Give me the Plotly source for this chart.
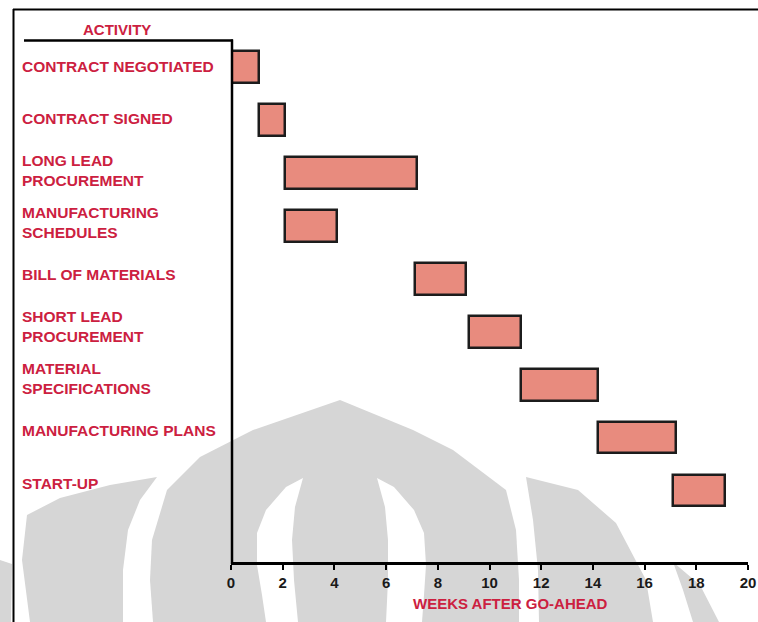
import plotly.graph_objects as go

# --- data -------------------------------------------------------------
activities = [
    "CONTRACT NEGOTIATED",
    "CONTRACT SIGNED",
    "LONG LEAD<br>PROCUREMENT",
    "MANUFACTURING<br>SCHEDULES",
    "BILL OF MATERIALS",
    "SHORT LEAD<br>PROCUREMENT",
    "MATERIAL<br>SPECIFICATIONS",
    "MANUFACTURING PLANS",
    "START-UP",
]
start_week = [0.0, 1.1, 2.1, 2.1, 7.1, 9.2, 11.2, 14.2, 17.1]
end_week = [1.1, 2.1, 7.2, 4.1, 9.1, 11.2, 14.2, 17.2, 19.1]
week_ticks = list(range(0, 21, 2))

# --- layout geometry (pixels) ------------------------------------------
W, H = 758, 622
L, R, T, B = 231, 10, 40, 60
PW, PH = W - L - R, H - T - B
RED = "#cc2040"
FONT = "Liberation Sans"


def px(x, y):
    """Convert page pixel coordinates to paper coordinates."""
    return (x - L) / PW, (H - B - y) / PH


def path(points):
    pts = [px(x, y) for x, y in points]
    return "M " + " L ".join(f"{a:.5f},{b:.5f}" for a, b in pts) + " Z"


rows = list(range(len(activities)))
durations = [e - s for s, e in zip(start_week, end_week)]

fig = go.Figure(
    go.Bar(
        y=rows,
        x=durations,
        base=start_week,
        orientation="h",
        width=0.6,
        marker=dict(color="#e88b7e", line=dict(color="#1c1c1c", width=2.5)),
        hoverinfo="skip",
    )
)

# --- background emblem (light grey) -----------------------------------
GREY = "#d6d6d6"
emblem_grey = [
    # far left sliver
    [(0, 560), (12, 564), (11, 622), (0, 622)],
    # left band
    [(157, 477), (110, 485), (60, 498), (27, 515), (22, 560), (30, 622),
     (123, 622), (123, 570), (128, 530), (140, 500)],
    # central dome
    [(153, 622), (150, 580), (152, 540), (167, 490), (200, 457), (253, 430),
     (340, 400), (413, 430), (453, 450), (506, 490), (516, 530), (519, 580),
     (519, 622)],
    # right band
    [(526, 477), (578, 490), (616, 523), (646, 580), (653, 622),
     (539, 622), (538, 570), (533, 520)],
    # far right band
    [(673, 562), (700, 585), (719, 622), (693, 622), (683, 590)],
]
emblem_white = [
    [(303, 478), (286, 487), (266, 510), (257, 533), (257, 565), (262, 595),
     (266, 622), (298, 622), (294, 580), (292, 540), (295, 507)],
    [(377, 478), (394, 487), (414, 510), (424, 533), (426, 565), (424, 595),
     (422, 622), (386, 622), (388, 580), (388, 540), (385, 507)],
]

shapes = []
for poly in emblem_grey:
    shapes.append(dict(type="path", path=path(poly), xref="paper", yref="paper",
                       fillcolor=GREY, line=dict(width=0), layer="below"))
for poly in emblem_white:
    shapes.append(dict(type="path", path=path(poly), xref="paper", yref="paper",
                       fillcolor="white", line=dict(width=0), layer="below"))


# frame lines, the activity column divider and its header rule
def hline(x0, x1, y, w):
    a0, b0 = px(x0, y)
    a1, _ = px(x1, y)
    return dict(type="line", xref="paper", yref="paper", x0=a0, x1=a1,
                y0=b0, y1=b0, line=dict(color="black", width=w), layer="above")


def vline(x, y0, y1, w):
    a0, b0 = px(x, y0)
    _, b1 = px(x, y1)
    return dict(type="line", xref="paper", yref="paper", x0=a0, x1=a0,
                y0=b0, y1=b1, line=dict(color="black", width=w), layer="above")


shapes += [
    hline(24, 233, 40.5, 2.5),
    vline(232, 39.5, 564, 2.5),
    vline(13.5, 9, 622, 2),
    hline(13, 758, 9.5, 2),
]

# --- text -------------------------------------------------------------
annotations = []
lx, _ = px(20, 0)
for i, name in enumerate(activities):
    annotations.append(dict(
        text=name, xref="paper", yref="y", x=lx, y=i, xanchor="left",
        yanchor="middle", align="left", showarrow=False, yshift=1 + 0.8 * i,
        font=dict(family=FONT, size=15.5, color=RED, weight="bold"),
    ))

ax_, ay_ = px(117, 29.5)
annotations.append(dict(
    text="ACTIVITY", xref="paper", yref="paper", x=ax_, y=ay_,
    xanchor="center", yanchor="middle", showarrow=False,
    font=dict(family=FONT, size=15, color=RED, weight="bold"),
))
tx, ty = px(510, 603)
annotations.append(dict(
    text="WEEKS AFTER GO-AHEAD", xref="paper", yref="paper", x=tx, y=ty,
    xanchor="center", yanchor="middle", showarrow=False,
    font=dict(family=FONT, size=15, color=RED, weight="bold"),
))

fig.update_layout(
    width=W, height=H,
    margin=dict(l=L, r=R, t=T, b=B, pad=0, autoexpand=False),
    paper_bgcolor="white",
    plot_bgcolor="rgba(0,0,0,0)",
    showlegend=False,
    shapes=shapes,
    annotations=annotations,
    bargap=0,
    xaxis=dict(
        range=[0, 20], tickvals=week_ticks, ticktext=[str(t) for t in week_ticks],
        showline=True, linecolor="black", linewidth=2.5,
        ticks="outside", ticklen=5, tickwidth=2, tickcolor="black",
        tickfont=dict(family=FONT, size=15, color="#1a1a1a", weight="bold"),
        showgrid=False, zeroline=False, fixedrange=True, automargin=False,
    ),
    yaxis=dict(
        range=[9.352, -0.516], showline=False,
        showticklabels=False, ticks="", showgrid=False, zeroline=False,
        fixedrange=True, automargin=False,
    ),
)

fig.write_html("out.html")
